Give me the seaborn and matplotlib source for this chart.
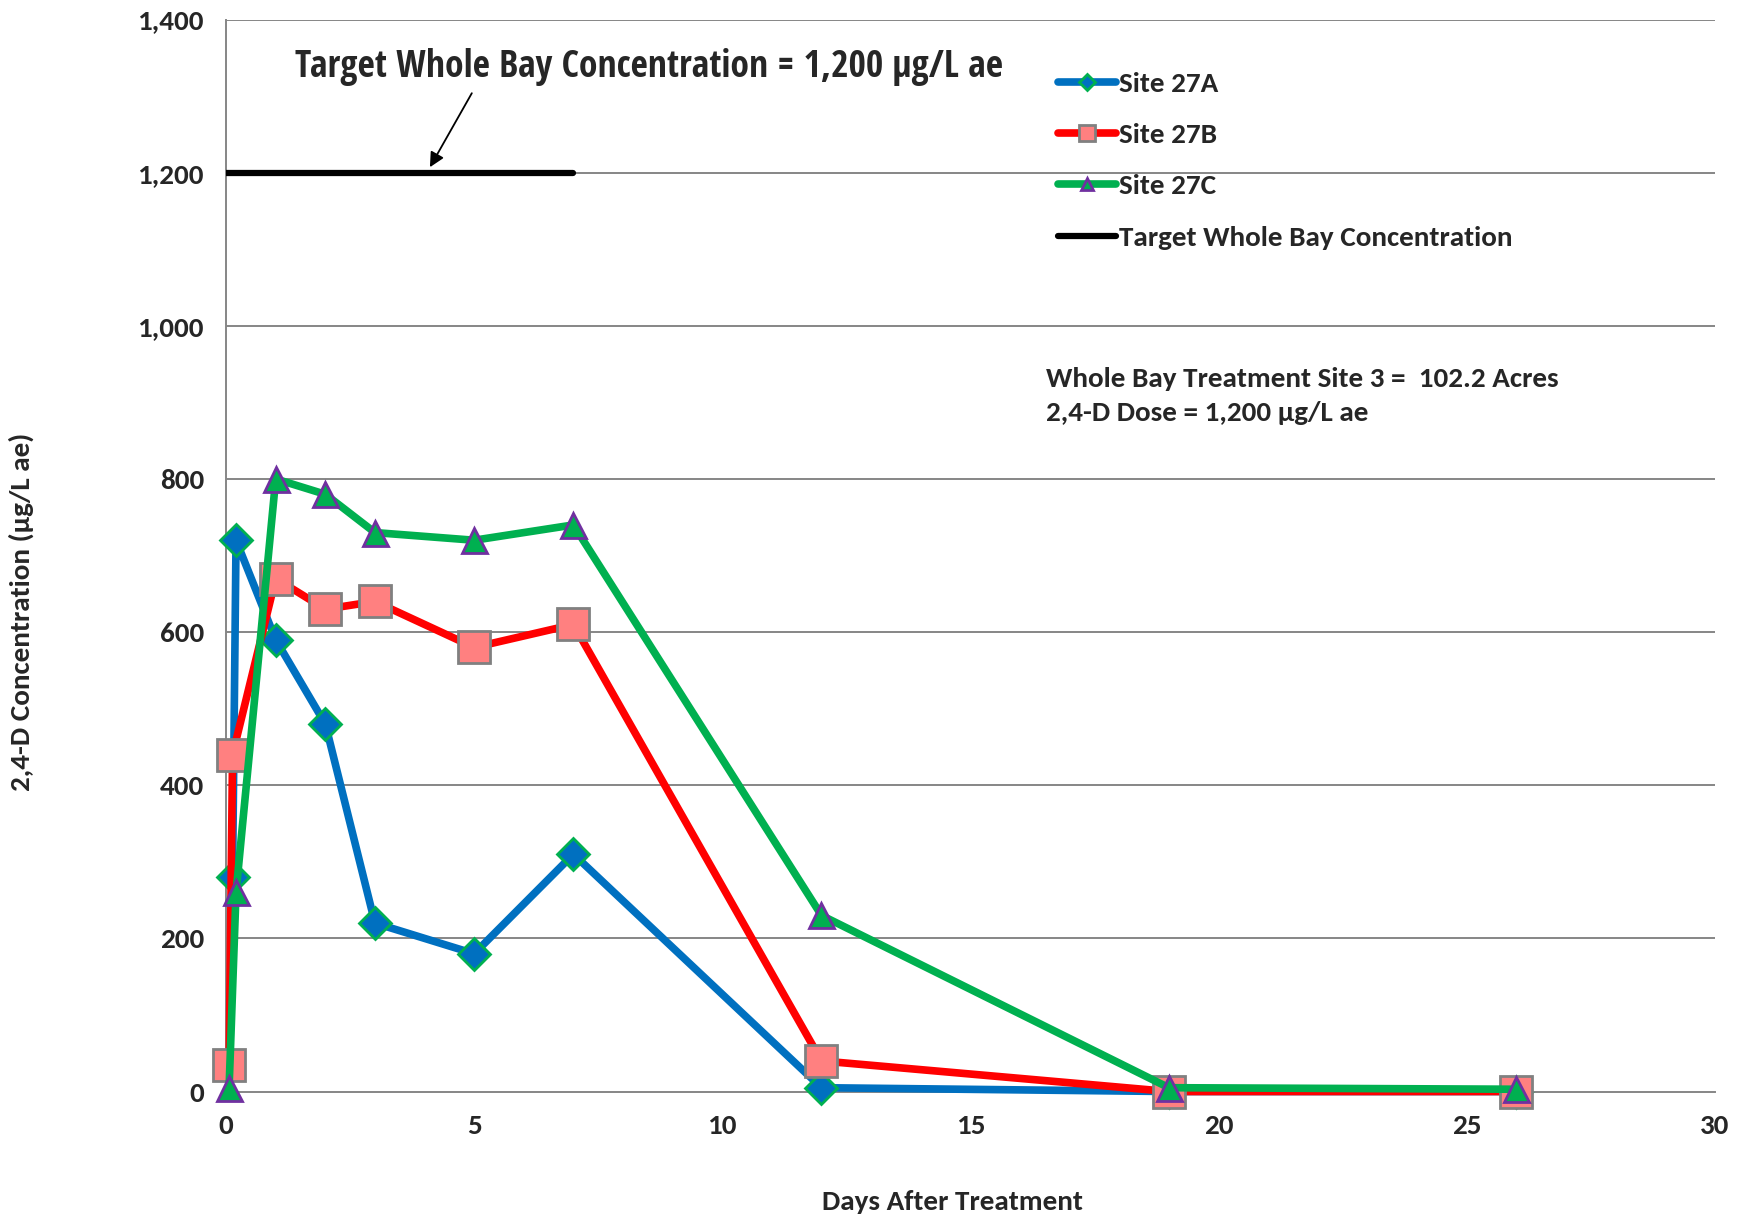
import numpy as np
import matplotlib
matplotlib.use("Agg")
import matplotlib.pyplot as plt
import seaborn as sns
from matplotlib import font_manager as fm
from matplotlib.ticker import FuncFormatter

# ----- data -----
DAYS_A = [0.13, 0.2, 1, 2, 3, 5, 7, 12, 19, 26]
CONC_A = [280, 720, 590, 480, 220, 180, 310, 5, 0, 0]

DAYS_B = [0.06, 0.13, 1, 2, 3, 5, 7, 12, 19, 26]
CONC_B = [35, 440, 670, 630, 640, 580, 610, 40, 0, 0]

DAYS_C = [0.06, 0.2, 1, 2, 3, 5, 7, 12, 19, 26]
CONC_C = [5, 260, 800, 780, 730, 720, 740, 230, 5, 3]

TARGET_X = [0, 7]
TARGET_Y = [1200, 1200]


def pick_font(candidates):
    """first candidate family that has a bold face installed"""
    have = {}
    for f in fm.fontManager.ttflist:
        w = f.weight if isinstance(f.weight, int) else 400
        have[f.name] = max(have.get(f.name, 0), w)
    for name in candidates:
        if have.get(name, 0) >= 700:
            return name
    return "DejaVu Sans"


main_font = pick_font(["Carlito", "Lato", "Open Sans", "Noto Sans"])
narrow_font = pick_font(["Liberation Sans Narrow", "Arimo", "Open Sans Condensed",
                         "Liberation Sans"])

sns.set_style("white")
plt.rcParams["font.family"] = [main_font, "DejaVu Sans"]
plt.rcParams["font.weight"] = "bold"

FS = 21

fig = plt.figure(figsize=(17.46, 12.23), dpi=100)
ax = fig.add_axes([0.1295, 0.1075, 0.8525, 0.8765])

grid_col = "#868686"
for yv in np.arange(200, 1401, 200):
    ax.axhline(yv, color=grid_col, lw=1.4, zorder=0)

series = [
    (DAYS_A, CONC_A, "Site 27A", "#0070C0", "D", 16.5, "#00B050"),
    (DAYS_B, CONC_B, "Site 27B", "#FF0000", "s", 23, "#808080"),
    (DAYS_C, CONC_C, "Site 27C", "#00B050", "^", 18, "#7030A0"),
]
mfaces = {"Site 27A": "#0070C0", "Site 27B": "#FF8080", "Site 27C": "#00B050"}
for i, (x, y, lab, col, mk, ms, mec) in enumerate(series):
    sns.lineplot(x=x, y=y, ax=ax, color=col, lw=5.5, marker=mk, markersize=ms,
                 markerfacecolor=mfaces[lab], markeredgecolor=mec,
                 markeredgewidth=2, label=lab, sort=False, estimator=None,
                 clip_on=False, zorder=3 + i)

sns.lineplot(x=TARGET_X, y=TARGET_Y, ax=ax, color="black", lw=4.5,
             label="Target Whole Bay Concentration", sort=False,
             estimator=None, zorder=3)

ax.set_xlim(0, 30)
ax.set_ylim(0, 1400)
ax.set_xticks(np.arange(0, 31, 5))
ax.set_yticks(np.arange(0, 1401, 200))
ax.yaxis.set_major_formatter(FuncFormatter(lambda v, p: f"{int(v):,}"))
ax.tick_params(axis="both", labelsize=FS, direction="out", color=grid_col,
               width=1.4)
ax.tick_params(axis="x", length=7, pad=9)
ax.tick_params(axis="y", length=10, pad=6)
for lbl in ax.get_xticklabels() + ax.get_yticklabels():
    lbl.set_fontweight("bold")

for side in ["top", "right"]:
    ax.spines[side].set_visible(False)
for side in ["left", "bottom"]:
    ax.spines[side].set_color(grid_col)
    ax.spines[side].set_linewidth(1.4)

ax.set_xlabel("Days After Treatment", fontsize=FS, fontweight="bold")
ax.xaxis.set_label_coords(0.488, -0.092)
ax.set_ylabel("2,4-D Concentration (\u00b5g/L ae)", fontsize=FS,
              fontweight="bold")
ax.yaxis.set_label_coords(-0.129, 0.447)

ax.annotate("", xy=(4.08, 1204), xytext=(4.98, 1307),
            arrowprops=dict(arrowstyle="-|>", color="black", lw=1.3,
                            mutation_scale=22))
ax.text(1.39, 1338, "Target Whole Bay Concentration = 1,200 \u00b5g/L ae",
        fontsize=27, fontweight="bold", va="center", ha="left",
        family=[narrow_font, "DejaVu Sans"])

ax.text(16.53, 908, "Whole Bay Treatment Site 3 =  102.2 Acres\n"
        "2,4-D Dose = 1,200 \u00b5g/L ae", fontsize=FS, fontweight="bold",
        va="center", ha="left", linespacing=1.5)

leg = ax.legend(loc="upper left", bbox_to_anchor=(0.541, 0.976),
                frameon=False, fontsize=FS, labelspacing=0.92,
                handlelength=2.0, handletextpad=0.1, markerscale=0.5)
for t in leg.get_texts():
    t.set_fontweight("bold")

fig.savefig("out.png", dpi=100)
